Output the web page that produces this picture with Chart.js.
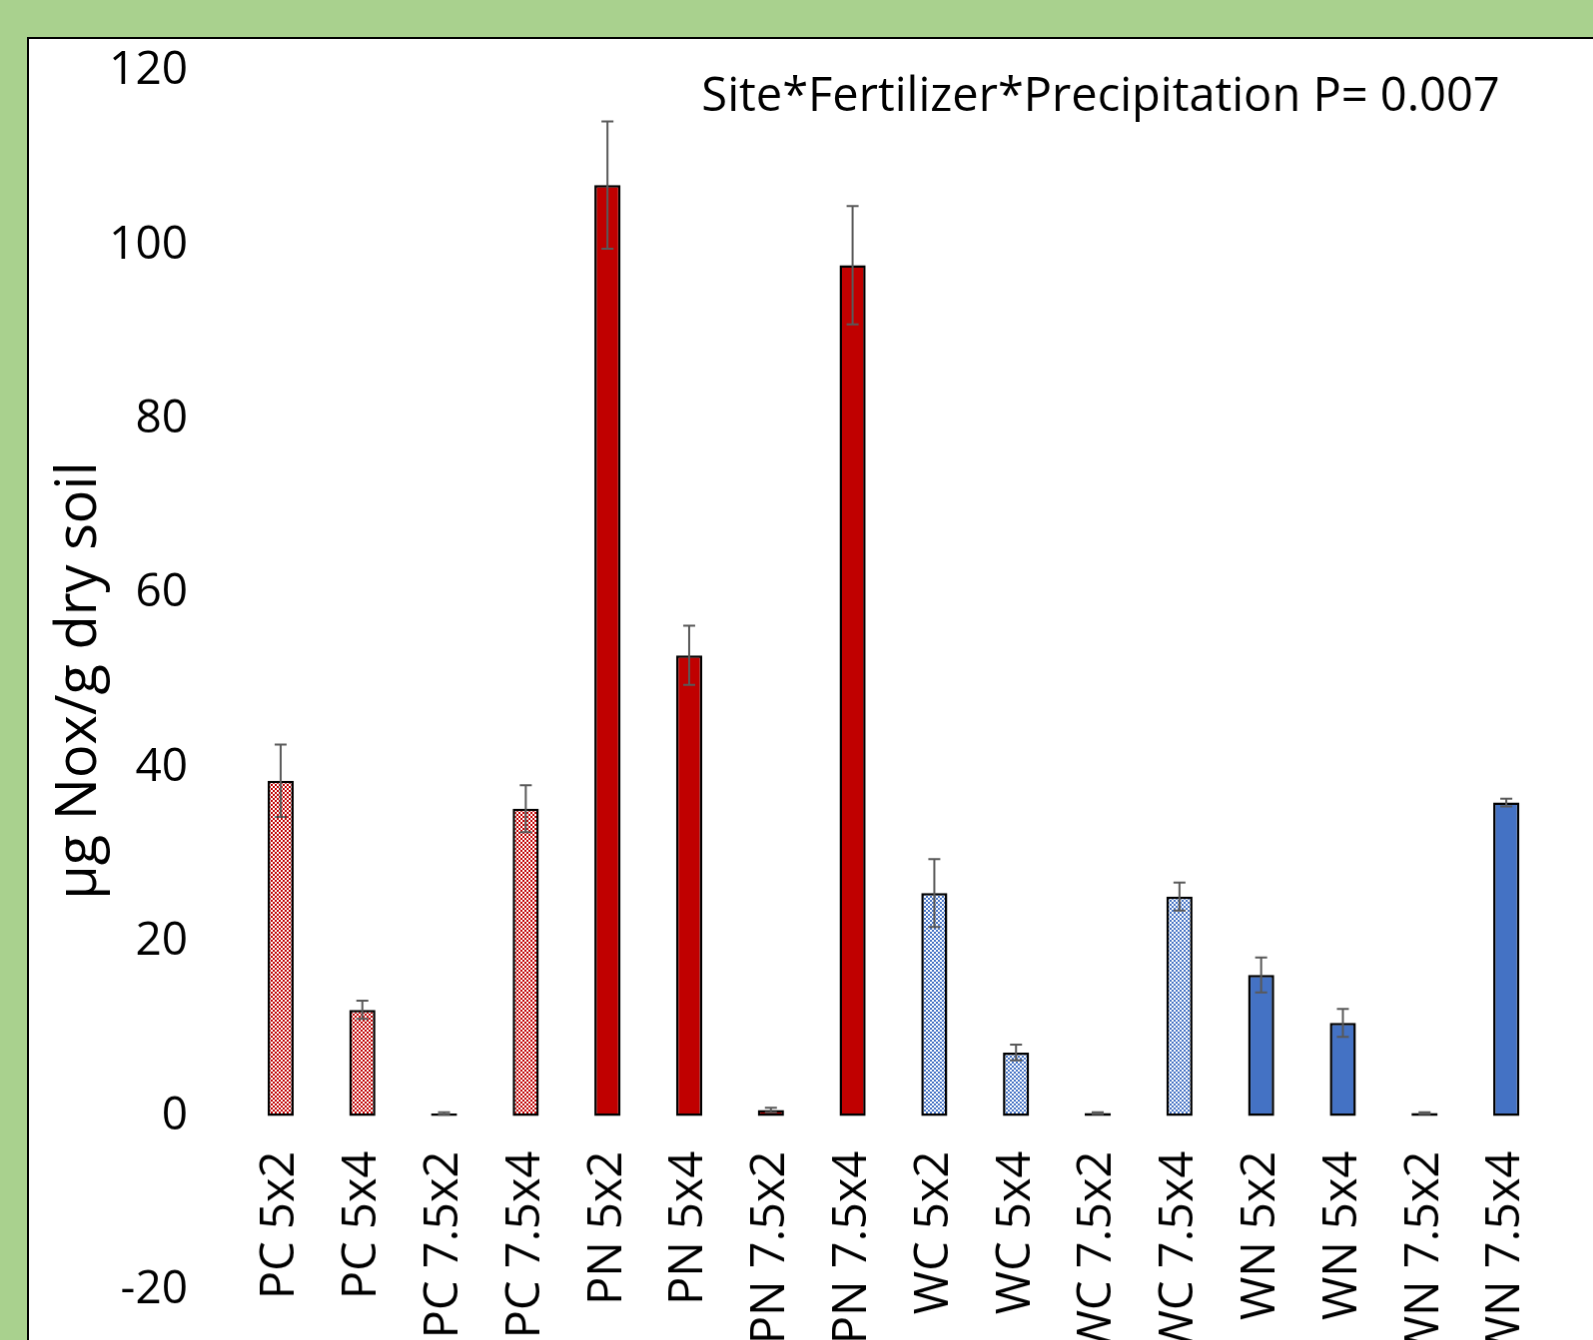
<!DOCTYPE html>
<html>
<head>
<meta charset="utf-8">
<title>NOx per gram dry soil</title>
<script src="https://cdn.jsdelivr.net/npm/chart.js@4"></script>
<style>
    body { margin: 0; background: #A9D18E; overflow: hidden; }
    #noxChart {
        position: absolute;
        left: 27px;
        top: 37px;
        border-left: 2px solid #000;
        border-top: 2px solid #000;
        background: #fff;
    }
</style>
</head>
<body>
<canvas id="noxChart" width="1620" height="1420"></canvas>
<script>
const categories = ['PC 5x2', 'PC 5x4', 'PC 7.5x2', 'PC 7.5x4',
                    'PN 5x2', 'PN 5x4', 'PN 7.5x2', 'PN 7.5x4',
                    'WC 5x2', 'WC 5x4', 'WC 7.5x2', 'WC 7.5x4',
                    'WN 5x2', 'WN 5x4', 'WN 7.5x2', 'WN 7.5x4'];
const noxMeans  = [38.5, 12.2, 0.3, 35.3, 106.9, 52.9, 0.7, 97.7, 25.6, 7.3, 0.35, 25.2, 16.2, 10.7, 0.35, 36.0];
const noxErrors = [4.15, 1.05, 0.15, 2.7, 7.3, 3.4, 0.25, 6.8, 3.9, 0.9, 0.1, 1.6, 2.0, 1.6, 0.1, 0.45];
const yTicks = [-20, 0, 20, 40, 60, 80, 100, 120];
const noteText = 'Site*Fertilizer*Precipitation P= 0.007';

const RED = '#C00000';
const BLUE = '#4472C4';
const FONT = 'Open Sans';

// small checkerboard used for the control (C) bars
const checker = (color) =>
{
    const c = document.createElement('canvas');
    c.width = 4;
    c.height = 4;
    const g = c.getContext('2d');
    g.fillStyle = '#fff';
    g.fillRect(0, 0, 4, 4);
    g.fillStyle = color;
    g.fillRect(0, 0, 2, 2);
    g.fillRect(2, 2, 2, 2);
    return g.createPattern(c, 'repeat');
}

const siteFills = {
    PC: checker(RED),
    PN: RED,
    WC: checker(BLUE),
    WN: BLUE
};

// mean +/- error whiskers on top of every bar
const errorBars = {
    id: 'errorBars',
    afterDatasetsDraw: (chart) =>
    {
        const ctx = chart.ctx;
        const y = chart.scales.y;
        const meta = chart.getDatasetMeta(0);
        ctx.save();
        ctx.strokeStyle = '#595959';
        ctx.lineWidth = 2;
        meta.data.forEach((bar, i) =>
        {
            const top = y.getPixelForValue(noxMeans[i] + noxErrors[i]);
            const bottom = y.getPixelForValue(noxMeans[i] - noxErrors[i]);
            ctx.beginPath();
            ctx.moveTo(bar.x, top);
            ctx.lineTo(bar.x, bottom);
            ctx.moveTo(bar.x - 6, top);
            ctx.lineTo(bar.x + 6, top);
            ctx.moveTo(bar.x - 6, bottom);
            ctx.lineTo(bar.x + 6, bottom);
            ctx.stroke();
        });
        ctx.restore();
    }
};

const pValueNote = {
    id: 'pValueNote',
    afterDraw: (chart) =>
    {
        const ctx = chart.ctx;
        const area = chart.chartArea;
        ctx.save();
        ctx.font = '47px "' + FONT + '"';
        ctx.fillStyle = '#000';
        ctx.textAlign = 'center';
        ctx.textBaseline = 'alphabetic';
        ctx.fillText(noteText, area.left + 862, area.top + 40);
        ctx.restore();
    }
};

const ctx = document.getElementById('noxChart').getContext('2d');
const noxChart = new Chart(ctx, {
    type: 'bar',
    data: {
        labels: categories,
        datasets: [{
            label: 'µg Nox/g dry soil',
            data: noxMeans,
            backgroundColor: categories.map((c) => siteFills[c.slice(0, 2)]),
            borderColor: '#000',
            borderWidth: 2.5,
            borderSkipped: false,
            barPercentage: 0.32,
            categoryPercentage: 1
        }]
    },
    options: {
        responsive: false,
        animation: false,
        layout: {
            padding: { left: 0, top: 32, right: 100, bottom: 167 }
        },
        plugins: {
            legend: { display: false },
            tooltip: { enabled: false }
        },
        scales: {
            x: {
                position: { y: 0 },
                grid: { display: false, drawTicks: false },
                border: { display: false },
                ticks: {
                    autoSkip: false,
                    minRotation: 90,
                    maxRotation: 90,
                    padding: 35,
                    color: '#000',
                    font: { family: FONT, size: 47 }
                }
            },
            y: {
                min: -20,
                max: 120,
                afterBuildTicks: (axis) =>
                {
                    axis.ticks = yTicks.map((v) => ({ value: v }));
                },
                afterFit: (axis) =>
                {
                    axis.width = 211;
                    axis.paddingTop = 0;
                    axis.paddingBottom = 0;
                },
                grid: { display: false, drawTicks: false },
                border: { display: false },
                ticks: {
                    padding: 52,
                    color: '#000',
                    font: { family: FONT, size: 46 }
                },
                title: {
                    display: true,
                    text: 'µg Nox/g dry soil',
                    color: '#000',
                    padding: { top: 17, bottom: 0 },
                    font: { family: FONT, size: 56 }
                }
            }
        }
    },
    plugins: [errorBars, pValueNote]
});
</script>
</body>
</html>
